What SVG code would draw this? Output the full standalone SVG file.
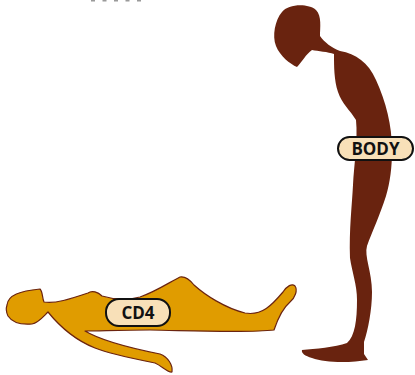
<svg xmlns="http://www.w3.org/2000/svg" width="415" height="375" viewBox="0 0 415 375">
  <style>
    .standing { fill: #69230f; }
    .lying { fill: #e09c00; stroke: #6b2410; stroke-width: 1.2; stroke-linejoin: round; }
    .tag rect { fill: #f8e0b8; stroke: #111; stroke-width: 2; }
    .tag text { font-family: "Open Sans", "Liberation Sans", Arial, sans-serif; font-weight: bold; font-size: 17px; fill: #111; text-anchor: middle; }
    .dots { stroke: #9a9a9a; stroke-width: 2; stroke-dasharray: 4 7.5; fill: none; }
  </style>

  <!-- short dashed mark at the top edge -->
  <path class="dots" d="M 91 0.5 L 144 0.5"/>

  <!-- standing, bent-over figure -->
  <g id="body-figure">
    <path class="standing" d="M 282 12
      C 288 4, 308 3, 316 10
      C 322 16, 320 28, 320 36
      C 324 42, 332 48, 340 51
      C 356 54, 368 62, 376 80
      C 386 102, 392 125, 392 150
      C 392 168, 390 182, 386 196
      C 380 215, 372 232, 367 246
      C 364 256, 372 272, 372 292
      C 372 310, 368 330, 364 342
      L 364 354 L 368 360
      C 350 363, 325 363, 312 358
      C 305 356, 301 353, 302 350
      C 315 349, 335 347, 347 343
      C 355 336, 357 320, 357 300
      C 357 285, 352 272, 350 258
      C 349 230, 352 205, 353 185
      C 354 165, 358 140, 356 120
      C 350 110, 342 104, 338 92
      C 334 80, 334 66, 334 54
      C 328 52, 318 51, 312 50
      C 306 54, 302 62, 297 67
      C 290 64, 280 56, 276 46
      C 272 36, 275 20, 282 12 Z"/>
  </g>

  <!-- lying figure -->
  <g id="cd4-figure">
    <path class="lying" d="M 7 305
      C 8 295, 20 291, 40 289
      C 43 292, 42 298, 44 302
      C 55 304, 70 299, 88 293
      C 92 290, 98 292, 102 296
      C 115 300, 130 300, 140 297
      C 155 292, 170 282, 180 277
      C 186 276, 190 280, 194 285
      C 205 295, 225 308, 245 313
      C 262 316, 272 305, 283 292
      C 287 286, 292 283, 295 286
      C 298 290, 295 298, 290 302
      C 283 308, 278 318, 274 330
      C 250 333, 200 331, 150 330
      C 120 330, 100 331, 85 331
      C 100 340, 130 348, 160 354
      C 168 357, 173 365, 172 372
      C 168 373, 162 366, 155 363
      C 135 359, 110 354, 95 348
      C 80 342, 65 333, 48 312
      C 42 318, 38 323, 32 324
      C 20 325, 12 322, 8 316
      C 6 312, 6 308, 7 305 Z"/>
  </g>

  <!-- labels -->
  <g id="body-label" class="tag">
    <rect x="338" y="137" width="75" height="23" rx="11.5"/>
    <text x="375.5" y="154.5">BODY</text>
  </g>
  <g id="cd4-label" class="tag">
    <rect x="106" y="299" width="64" height="27" rx="13"/>
    <text x="138" y="318.5">CD4</text>
  </g>
</svg>
